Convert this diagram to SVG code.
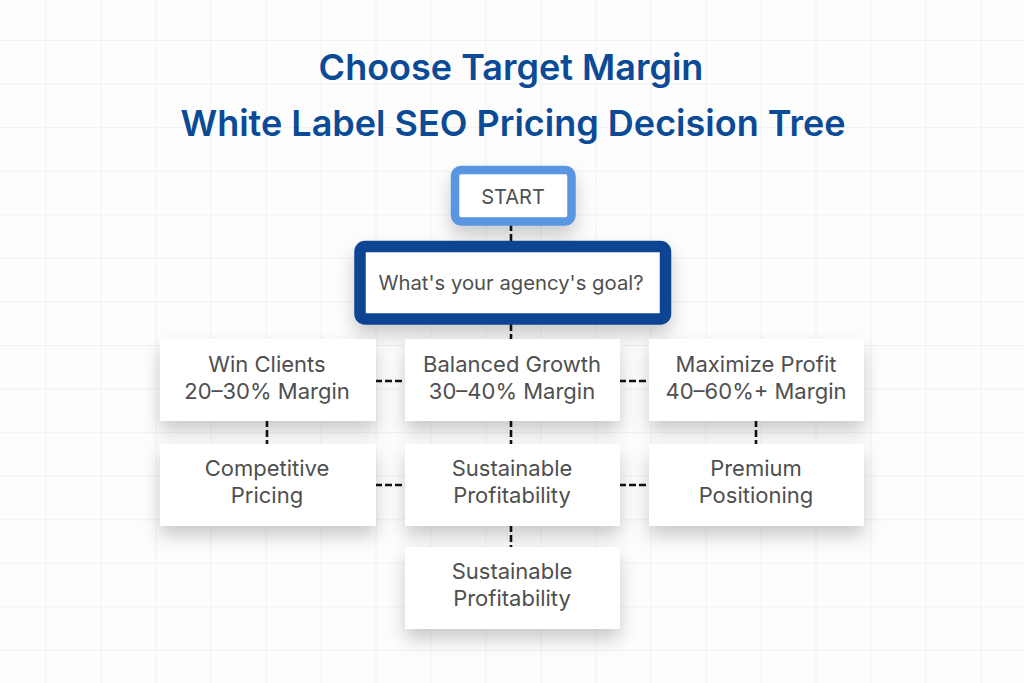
<svg xmlns="http://www.w3.org/2000/svg" width="1024" height="683" viewBox="0 0 1024 683">
<defs>
<pattern id="grid" patternUnits="userSpaceOnUse" x="45.5" y="40" width="55" height="43.57">
<path d="M0 0 V43.57 M0 0 H55" fill="none" stroke="#f1f1f1" stroke-width="1.8"/>
</pattern>
<filter id="sh" x="-25%" y="-35%" width="150%" height="200%">
<feDropShadow dx="0" dy="10" stdDeviation="9" flood-color="#000" flood-opacity="0.2"/>
</filter>
</defs>
<style>
.title{font-family:Inter,"Noto Sans",sans-serif;font-weight:600;font-size:36px;fill:#0b4a96;text-anchor:middle}
.box{fill:#fff;filter:url(#sh)}
.t{font-family:Inter,"Noto Sans",sans-serif;font-size:22px;fill:#4f4f4f;text-anchor:middle}
.c{stroke:#111;stroke-width:2.6;stroke-dasharray:7 3;fill:none}
</style>
<rect width="1024" height="683" fill="#fdfdfd"/>
<rect width="1024" height="683" fill="url(#grid)"/>
<g id="title">
<text class="title" x="511" y="80">Choose Target Margin</text>
<text class="title" x="513" y="136">White Label SEO Pricing Decision Tree</text>
</g>
<g id="connectors">
<line class="c" x1="511" y1="224" x2="511" y2="242"/>
<line class="c" x1="511" y1="324" x2="511" y2="340"/>
<line class="c" x1="375" y1="381" x2="406" y2="381"/>
<line class="c" x1="619" y1="381" x2="650" y2="381"/>
<line class="c" x1="267" y1="420" x2="267" y2="445"/>
<line class="c" x1="511" y1="420" x2="511" y2="445"/>
<line class="c" x1="756" y1="420" x2="756" y2="445"/>
<line class="c" x1="375" y1="485" x2="406" y2="485"/>
<line class="c" x1="619" y1="485" x2="650" y2="485"/>
<line class="c" x1="511" y1="525" x2="511" y2="548"/>
</g>
<g id="start">
<rect x="455" y="170" width="116.5" height="51.5" rx="6" fill="#fff" stroke="#5a95e2" stroke-width="8.5" filter="url(#sh)"/>
<text class="t" x="513" y="204" style="font-size:20px">START</text>
</g>
<g id="question">
<rect x="360" y="246.5" width="305.5" height="72.5" rx="5" fill="#fff" stroke="#0b4593" stroke-width="11.5" filter="url(#sh)"/>
<text class="t" x="511" y="290" style="font-size:20.3px">What's your agency's goal?</text>
</g>
<g id="win">
<rect class="box" x="160" y="339" width="216" height="82"/>
<text class="t" x="267" y="372">Win Clients</text>
<text class="t" x="267" y="399">20–30% Margin</text>
</g>
<g id="balanced">
<rect class="box" x="405" y="339" width="215" height="82"/>
<text class="t" x="512" y="372">Balanced Growth</text>
<text class="t" x="512" y="399">30–40% Margin</text>
</g>
<g id="maximize">
<rect class="box" x="649" y="339" width="215" height="82"/>
<text class="t" x="756" y="372">Maximize Profit</text>
<text class="t" x="756" y="399">40–60%+ Margin</text>
</g>
<g id="competitive">
<rect class="box" x="160" y="444" width="216" height="82"/>
<text class="t" x="267" y="476">Competitive</text>
<text class="t" x="267" y="503">Pricing</text>
</g>
<g id="sustainable1">
<rect class="box" x="405" y="444" width="215" height="82"/>
<text class="t" x="512" y="476">Sustainable</text>
<text class="t" x="512" y="503">Profitability</text>
</g>
<g id="premium">
<rect class="box" x="649" y="444" width="215" height="82"/>
<text class="t" x="756" y="476">Premium</text>
<text class="t" x="756" y="503">Positioning</text>
</g>
<g id="sustainable2">
<rect class="box" x="405" y="547" width="215" height="82"/>
<text class="t" x="512" y="579">Sustainable</text>
<text class="t" x="512" y="606">Profitability</text>
</g>
</svg>
